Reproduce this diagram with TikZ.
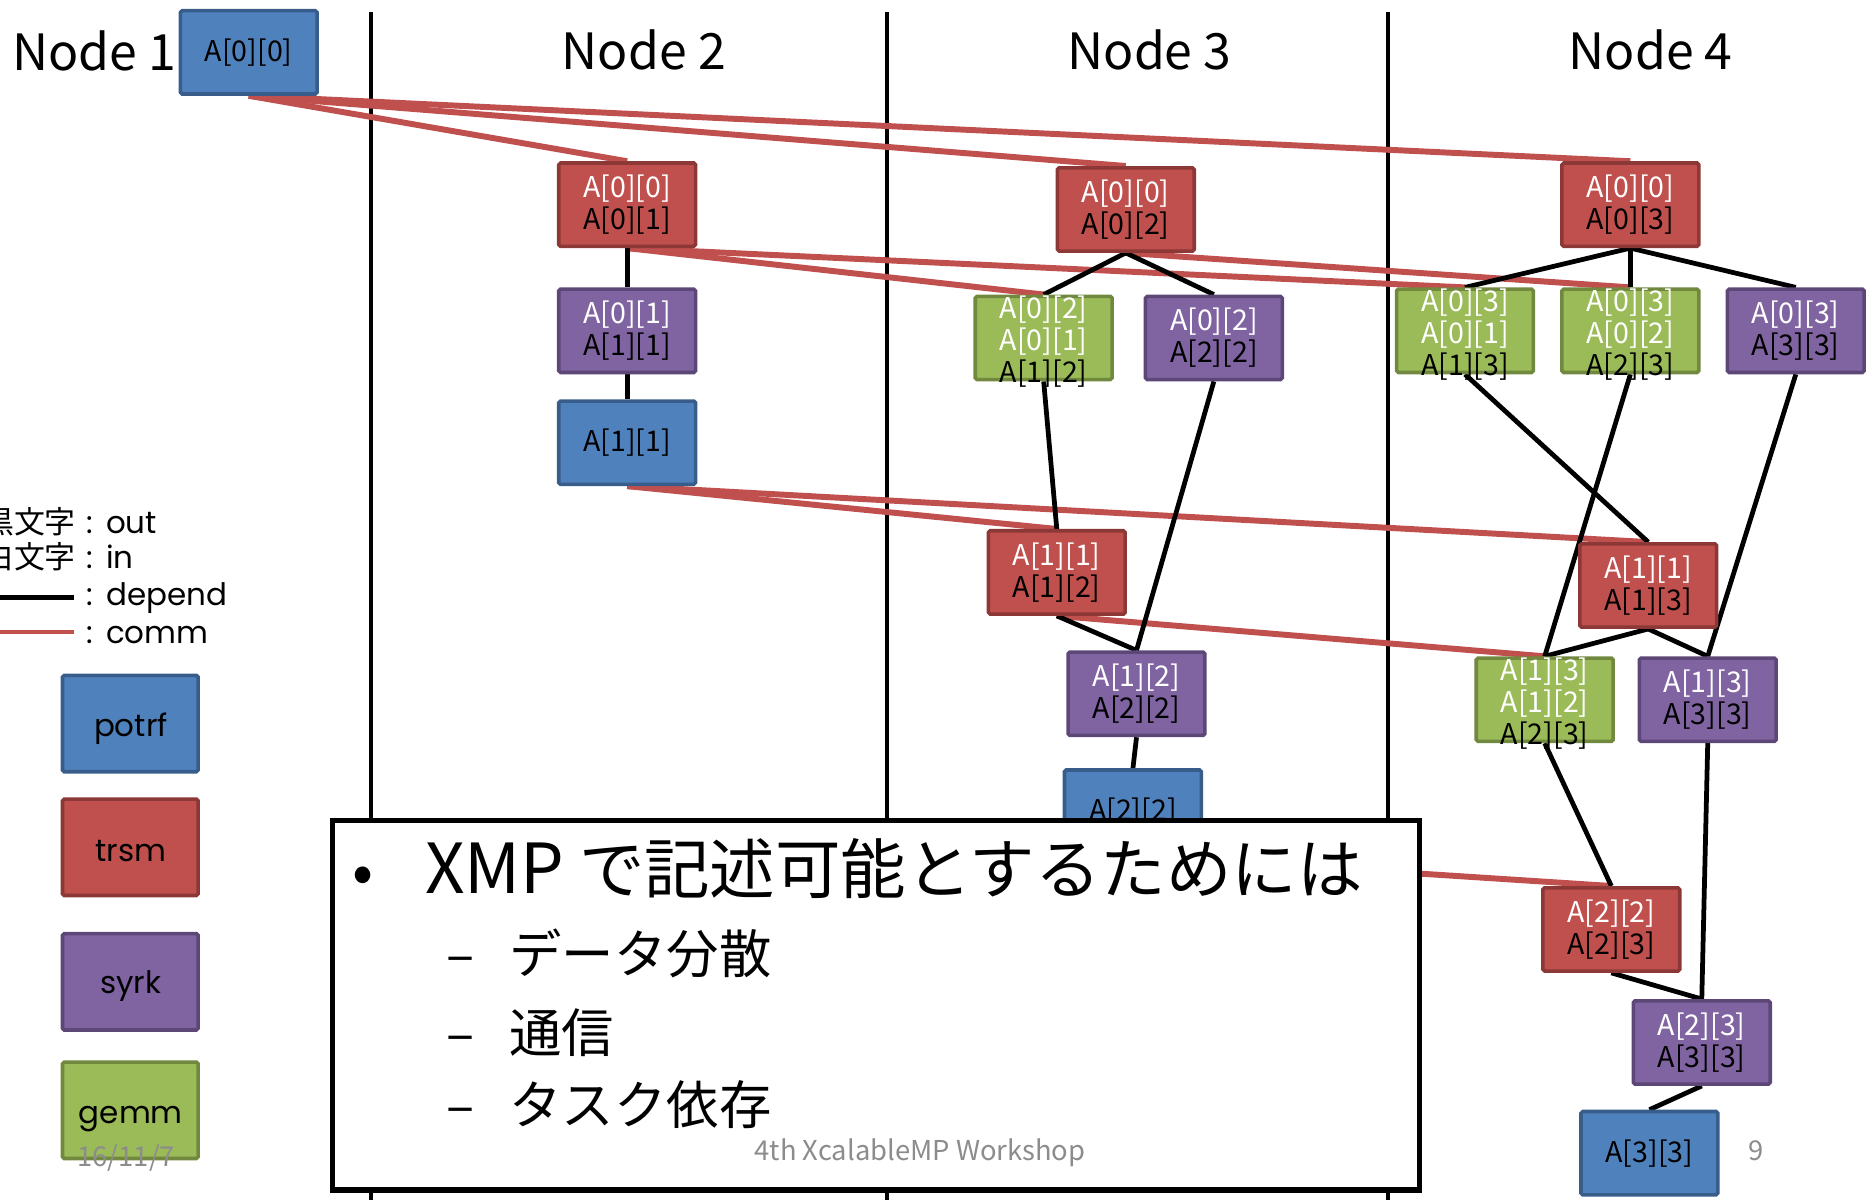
\documentclass[tikz,border=0pt]{standalone}
\usepackage{fontspec}
\setmainfont{Noto Sans CJK JP}
\newfontfamily\geofont{Poppins}
\newfontfamily\jpfont{Noto Sans CJK JP}
\usetikzlibrary{backgrounds}

% task colours (fill / edge)
\definecolor{potrfFill}{HTML}{4F81BD}
\definecolor{potrfEdge}{HTML}{385D8A}
\definecolor{trsmFill}{HTML}{C0504D}
\definecolor{trsmEdge}{HTML}{8C3836}
\definecolor{syrkFill}{HTML}{8064A2}
\definecolor{syrkEdge}{HTML}{5C4776}
\definecolor{gemmFill}{HTML}{9BBB59}
\definecolor{gemmEdge}{HTML}{71893F}
\definecolor{commRed}{HTML}{C0504D}
\definecolor{footGray}{HTML}{8C8C8C}

% blocks that a task reads are printed in white
\newcommand\inp[1]{\textcolor{white}{#1}}
\newcommand\fsz[1]{\fontsize{#1}{#1}\selectfont}

\tikzset{
  task/.style={rectangle, rounded corners=1.5pt, line width=3pt,
    minimum width=115pt, minimum height=70pt, inner sep=0pt},
  potrfbox/.style={task, fill=potrfFill, draw=potrfEdge},
  trsmbox/.style={task, fill=trsmFill, draw=trsmEdge},
  syrkbox/.style={task, fill=syrkFill, draw=syrkEdge},
  gemmbox/.style={task, fill=gemmFill, draw=gemmEdge},
  legendbox/.style={minimum width=114pt, minimum height=81pt},
  tasklbl/.style={align=center, inner sep=0pt, font=\fontsize{24}{27}\selectfont},
  legendlbl/.style={inner sep=0pt, anchor=base, font=\geofont\fsz{26}},
  keytext/.style={inner sep=0pt, anchor=base west, font=\geofont\fsz{26}},
  keycolon/.style={inner sep=0pt, anchor=base, font=\geofont\fsz{26}},
  keyjp/.style={inner sep=0pt, anchor=base east, font=\jpfont\fsz{26}},
  depline/.style={line width=4pt, draw=black},
  commline/.style={line width=5pt, draw=commRed},
  sepline/.style={line width=3.5pt, draw=black},
  ttl/.style={inner sep=0pt, font=\fsz{42}},
  foot/.style={inner sep=0pt, text=footGray, font=\fsz{23}},
}

% a task box with its centred block list
\newcommand\tbox[5][0pt]{%
  \node[#2] (#3) at (#4) {};
  \node[tasklbl, yshift=#1] (#3-lbl) at (#3.center) {#5};}

\begin{document}
\begin{tikzpicture}[x=1pt,y=-1pt]
\useasboundingbox (0,0) rectangle (1568,1008);

% column titles
\node[ttl, anchor=base west] (t1) at (10,59) {Node 1};
\node[ttl, anchor=base] (t2) at (541,58) {Node 2};
\node[ttl, anchor=base] (t3) at (966,58) {Node 3};
\node[ttl, anchor=base] (t4) at (1387,58) {Node 4};

% Node 1
\tbox{potrfbox}{n1}{209,44}{A[0][0]}

% Node 2
\tbox{trsmbox}{n2a}{527,172}{\inp{A[0][0]}\\A[0][1]}
\tbox{syrkbox}{n2b}{527,278}{\inp{A[0][1]}\\A[1][1]}
\tbox{potrfbox}{n2c}{527,372}{A[1][1]}

% Node 3
\tbox{trsmbox}{n3a}{946,176}{\inp{A[0][0]}\\A[0][2]}
\tbox[-3pt]{gemmbox}{n3b}{877,284}{\inp{A[0][2]}\\\inp{A[0][1]}\\A[1][2]}
\tbox{syrkbox}{n3c}{1020,284}{\inp{A[0][2]}\\A[2][2]}
\tbox{trsmbox}{n3d}{888,481}{\inp{A[1][1]}\\A[1][2]}
\tbox{syrkbox}{n3e}{955,583}{\inp{A[1][2]}\\A[2][2]}
\tbox{potrfbox}{n3f}{952,682}{A[2][2]}

% Node 4
\tbox{trsmbox}{n4a}{1370,172}{\inp{A[0][0]}\\A[0][3]}
\tbox[-3pt]{gemmbox}{n4b}{1231,278}{\inp{A[0][3]}\\\inp{A[0][1]}\\A[1][3]}
\tbox[-3pt]{gemmbox}{n4c}{1370,278}{\inp{A[0][3]}\\\inp{A[0][2]}\\A[2][3]}
\tbox{syrkbox}{n4d}{1509,278}{\inp{A[0][3]}\\A[3][3]}
\tbox{trsmbox}{n4e}{1385,492}{\inp{A[1][1]}\\A[1][3]}
\tbox[-3pt]{gemmbox}{n4f}{1298,588}{\inp{A[1][3]}\\\inp{A[1][2]}\\A[2][3]}
\tbox{syrkbox}{n4g}{1435,588}{\inp{A[1][3]}\\A[3][3]}
\tbox{trsmbox}{n4h}{1354,781}{\inp{A[2][2]}\\A[2][3]}
\tbox{syrkbox}{n4i}{1430,876}{\inp{A[2][3]}\\A[3][3]}
\tbox{potrfbox}{n4j}{1386,969}{A[3][3]}

% legend
\node[keyjp] (k1) at (64,448) {黒文字};
\node[keycolon] (k1c) at (75.5,448) {:};
\node[keytext] (k1t) at (89,448) {out};
\node[keyjp] (k2) at (64,478) {白文字};
\node[keycolon] (k2c) at (75.5,478) {:};
\node[keytext] (k2t) at (89,478) {in};
\coordinate (kdA) at (-5,502);
\coordinate (kdB) at (62,502);
\coordinate (kcA) at (-5,531);
\coordinate (kcB) at (62,531);
\node[keycolon] (k3c) at (75.5,509) {:};
\node[keytext] (k3t) at (89,509) {depend};
\node[keycolon] (k4c) at (75.5,541) {:};
\node[keytext] (k4t) at (89,541) {comm};

\node[potrfbox, legendbox] (lp) at (109.5,608) {};
\node[legendlbl] (lp-lbl) at (110,619) {potrf};
\node[trsmbox, legendbox] (lt) at (109.5,712) {};
\node[legendlbl] (lt-lbl) at (110,724) {trsm};
\node[syrkbox, legendbox] (ls) at (109.5,825) {};
\node[legendlbl] (ls-lbl) at (110,835) {syrk};
\node[gemmbox, legendbox] (lg) at (109.5,933) {};
\node[legendlbl] (lg-lbl) at (110,944) {gemm};

% connectors under the boxes
\begin{scope}[on background layer]
  \coordinate (s1t) at (312,10);  \coordinate (s1b) at (312,1010);
  \coordinate (s2t) at (745,10);  \coordinate (s2b) at (745,1010);
  \coordinate (s3t) at (1166,10); \coordinate (s3b) at (1166,1010);
  \draw[sepline] (s1t) -- (s1b);
  \draw[sepline] (s2t) -- (s2b);
  \draw[sepline] (s3t) -- (s3b);

  \draw[depline, line width=4.5pt] (kdA) -- (kdB);
  \draw[commline, line width=4pt] (kcA) -- (kcB);

  % communication
  \draw[commline] (n1.south) -- (n2a.north);
  \draw[commline] (n1.south) -- (n3a.north);
  \draw[commline] (n1.south) -- (n4a.north);
  \draw[commline] (n2a.south) -- (n3b.north);
  \draw[commline] (n2a.south) -- (n4b.north);
  \draw[commline] (n3a.south) -- (n4c.north);
  \draw[commline] (n2c.south) -- (n3d.north);
  \draw[commline] (n2c.south) -- (n4e.north);
  \draw[commline] (n3d.south) -- (n4f.north);
  \draw[commline] (n3f.south) -- (n4h.north);

  % dependencies
  \draw[depline] (n2a.south) -- (n2b.north);
  \draw[depline] (n2b.south) -- (n2c.north);
  \draw[depline] (n3a.south) -- (n3b.north);
  \draw[depline] (n3a.south) -- (n3c.north);
  \draw[depline] (n3b.south) -- (n3d.north);
  \draw[depline] (n3c.south) -- (n3e.north);
  \draw[depline] (n3d.south) -- (n3e.north);
  \draw[depline] (n3e.south) -- (n3f.north);
  \draw[depline] (n4a.south) -- (n4b.north);
  \draw[depline] (n4a.south) -- (n4c.north);
  \draw[depline] (n4a.south) -- (n4d.north);
  \draw[depline] (n4b.south) -- (n4e.north);
  \draw[depline] (n4c.south) -- (n4f.north);
  \draw[depline] (n4d.south) -- (n4g.north);
  \draw[depline] (n4e.south) -- (n4f.north);
  \draw[depline] (n4e.south) -- (n4g.north);
  \draw[depline] (n4f.south) -- (n4h.north);
  \draw[depline] (n4g.south) -- (n4i.north);
  \draw[depline] (n4h.south) -- (n4i.north);
  \draw[depline] (n4i.south) -- (n4j.north);
\end{scope}

% text panel laid over the graph
\filldraw[fill=white, draw=black, line width=4.5pt] (279.5,689.5) rectangle (1193,1000);
\node[inner sep=0pt, anchor=base, font=\fsz{52}] (bul) at (305,751) {•};
\node[inner sep=0pt, anchor=base west, font=\fsz{55}] (p1) at (357,751) {{\fsz{58}XMP} で記述可能とするためには};
\node[inner sep=0pt, anchor=base west, font=\fsz{44}] (d1) at (375,818) {–};
\node[inner sep=0pt, anchor=base west, font=\fsz{44}] (p2) at (428,818) {データ分散};
\node[inner sep=0pt, anchor=base west, font=\fsz{44}] (d2) at (375,884) {–};
\node[inner sep=0pt, anchor=base west, font=\fsz{44}] (p3) at (428,884) {通信};
\node[inner sep=0pt, anchor=base west, font=\fsz{44}] (d3) at (375,945) {–};
\node[inner sep=0pt, anchor=base west, font=\fsz{44}] (p4) at (428,945) {タスク依存};

% slide footer
\node[foot, anchor=base] (ft) at (773,975) {4th XcalableMP Workshop};
\node[foot, anchor=base west] (dt) at (65,980) {16/11/7};
\node[foot, anchor=base] (pg) at (1476,975) {9};
\end{tikzpicture}
\end{document}
